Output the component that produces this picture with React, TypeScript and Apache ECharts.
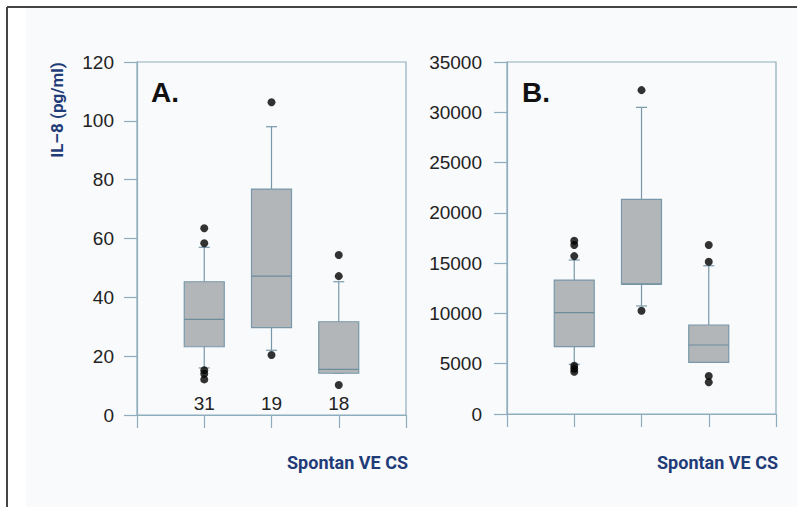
import React, { useEffect, useRef } from "react";
import * as echarts from "echarts";

// ---- data ----
const categoryPositions = [1, 2, 3];
const countsA = ["31", "19", "18"];
// [low whisker, Q1, median, Q3, high whisker]
const boxesA = [
  [16, 23.2, 32.5, 45.3, 57],
  [22, 29.7, 47.2, 76.8, 98],
  [14.2, 14.2, 15.5, 31.7, 45.3],
];
const outliersA = [
  [1, 63.5], [1, 58.4], [1, 15.2], [1, 14], [1, 12.1],
  [2, 106.3], [2, 20.4],
  [3, 54.4], [3, 47.2], [3, 10.2],
];
const boxesB = [
  [4940, 6690, 10070, 13320, 15310],
  [10740, 12920, 12920, 21340, 30490],
  [5140, 5140, 6860, 8850, 14740],
];
const outliersB = [
  [1, 17230], [1, 16800], [1, 15700], [1, 4800], [1, 4500], [1, 4200],
  [2, 32200], [2, 10270],
  [3, 16800], [3, 15140], [3, 3780], [3, 3150],
];
const yTicksA = { min: 0, max: 120, interval: 20 };
const yTicksB = { min: 0, max: 35000, interval: 5000 };
const xRange = { min: 0, max: 4, interval: 1 };

const AXIS_COLOR = "#8eadbd";
const BOX_STROKE = "#7898aa";
const BOX_FILL = "#b3b6b8";
const NAVY = "#1f3c78";

function renderBox(params: any, api: any) {
  const x = api.value(0);
  const low = api.coord([x, api.value(1)]);
  const q1 = api.coord([x, api.value(2)]);
  const med = api.coord([x, api.value(3)]);
  const q3 = api.coord([x, api.value(4)]);
  const high = api.coord([x, api.value(5)]);
  const cx = low[0];
  const hw = 20;
  const cw = 5.5;
  const ls = { stroke: BOX_STROKE, lineWidth: 1.2 };
  return {
    type: "group",
    children: [
      { type: "line", shape: { x1: cx, y1: high[1], x2: cx, y2: q3[1] }, style: ls },
      { type: "line", shape: { x1: cx, y1: q1[1], x2: cx, y2: low[1] }, style: ls },
      { type: "line", shape: { x1: cx - cw, y1: high[1], x2: cx + cw, y2: high[1] }, style: ls },
      { type: "line", shape: { x1: cx - cw, y1: low[1], x2: cx + cw, y2: low[1] }, style: ls },
      {
        type: "rect",
        shape: { x: cx - hw, y: q3[1], width: hw * 2, height: q1[1] - q3[1] },
        style: { fill: BOX_FILL, stroke: BOX_STROKE, lineWidth: 1.2 },
      },
      { type: "line", shape: { x1: cx - hw, y1: med[1], x2: cx + hw, y2: med[1] }, style: { stroke: "#6d8c9b", lineWidth: 1.2 } },
    ],
  };
}

function renderCount(params: any, api: any) {
  const p = api.coord([api.value(0), 0]);
  return {
    type: "text",
    style: {
      text: countsA[params.dataIndex],
      x: p[0],
      y: p[1] - 12,
      align: "center",
      verticalAlign: "middle",
      fill: "#222",
      font: "19px 'Liberation Sans', Arial, sans-serif",
    },
  };
}

function xAxisCfg(gridIndex: number) {
  return {
    type: "value",
    gridIndex,
    ...xRange,
    axisLine: { show: true, lineStyle: { color: AXIS_COLOR, width: 1.2 } },
    axisTick: { show: true, length: 13, inside: false, lineStyle: { color: AXIS_COLOR, width: 1.2 } },
    axisLabel: { show: false },
    splitLine: { show: false },
  };
}

function yAxisCfg(gridIndex: number, ticks: any, margin: number) {
  return {
    type: "value",
    gridIndex,
    ...ticks,
    axisLine: { show: true, lineStyle: { color: AXIS_COLOR, width: 1.2 } },
    axisTick: { show: true, length: 13, inside: false, lineStyle: { color: AXIS_COLOR, width: 1.2 } },
    axisLabel: {
      show: true,
      margin,
      color: "#222",
      fontSize: 19,
      fontFamily: "'Liberation Sans', Arial, sans-serif",
      formatter: (v: number) => String(v),
    },
    splitLine: { show: false },
  };
}

export default function App() {
  const ref = useRef<HTMLDivElement>(null);
  useEffect(() => {
    if (!ref.current) return;
    const chart = echarts.init(ref.current, undefined, { renderer: "svg" });
    const boxDataA = categoryPositions.map((c, i) => [c, ...boxesA[i]]);
    const boxDataB = categoryPositions.map((c, i) => [c, ...boxesB[i]]);
    const countData = categoryPositions.map((c) => [c, 0]);
    chart.setOption({
      animation: false,
      backgroundColor: "#f9fafc",
      grid: [
        { left: 137, top: 62, width: 269, height: 353, show: true, borderColor: AXIS_COLOR, borderWidth: 1.2, backgroundColor: "transparent" },
        { left: 507, top: 62, width: 269, height: 352, show: true, borderColor: AXIS_COLOR, borderWidth: 1.2, backgroundColor: "transparent" },
      ],
      xAxis: [xAxisCfg(0), xAxisCfg(1)],
      yAxis: [yAxisCfg(0, yTicksA, 23), yAxisCfg(1, yTicksB, 25)],
      series: [
        { type: "custom", xAxisIndex: 0, yAxisIndex: 0, renderItem: renderBox, data: boxDataA, encode: { x: 0, y: [1, 2, 3, 4, 5] }, z: 2 },
        { type: "custom", xAxisIndex: 1, yAxisIndex: 1, renderItem: renderBox, data: boxDataB, encode: { x: 0, y: [1, 2, 3, 4, 5] }, z: 2 },
        { type: "scatter", xAxisIndex: 0, yAxisIndex: 0, data: outliersA, symbol: "circle", symbolSize: 8, itemStyle: { color: "#000" }, z: 3 },
        { type: "scatter", xAxisIndex: 1, yAxisIndex: 1, data: outliersB, symbol: "circle", symbolSize: 8, itemStyle: { color: "#000" }, z: 3 },
        { type: "custom", xAxisIndex: 0, yAxisIndex: 0, renderItem: renderCount, data: countData, z: 3 },
      ],
      graphic: [
        { type: "rect", shape: { x: 0, y: 0, width: 797, height: 7 }, style: { fill: "#fff" }, silent: true },
        { type: "rect", shape: { x: 0, y: 0, width: 26, height: 507 }, style: { fill: "#fff" }, silent: true },
        { type: "line", shape: { x1: 7, y1: 7, x2: 797, y2: 7 }, style: { stroke: "#444", lineWidth: 2 } },
        { type: "line", shape: { x1: 7, y1: 7, x2: 7, y2: 507 }, style: { stroke: "#444", lineWidth: 2 } },
        { type: "text", x: 151, y: 92, style: { text: "A.", fill: "#111", font: "bold 28px 'Liberation Sans', Arial, sans-serif", align: "left", verticalAlign: "middle" } },
        { type: "text", x: 522, y: 92, style: { text: "B.", fill: "#111", font: "bold 28px 'Liberation Sans', Arial, sans-serif", align: "left", verticalAlign: "middle" } },
        { type: "text", x: 57, y: 110, rotation: Math.PI / 2, style: { text: "IL–8 (pg/ml)", fill: NAVY, font: "bold 17px Roboto, sans-serif", align: "center", verticalAlign: "middle" } },
        { type: "text", x: 408, y: 462, style: { text: "Spontan VE CS", fill: NAVY, font: "bold 18px Roboto, sans-serif", align: "right", verticalAlign: "middle" } },
        { type: "text", x: 778, y: 462, style: { text: "Spontan VE CS", fill: NAVY, font: "bold 18px Roboto, sans-serif", align: "right", verticalAlign: "middle" } },
      ],
    });
    return () => chart.dispose();
  }, []);
  return <div ref={ref} style={{ position: "fixed", left: 0, top: 0, width: 797, height: 507 }} />;
}
